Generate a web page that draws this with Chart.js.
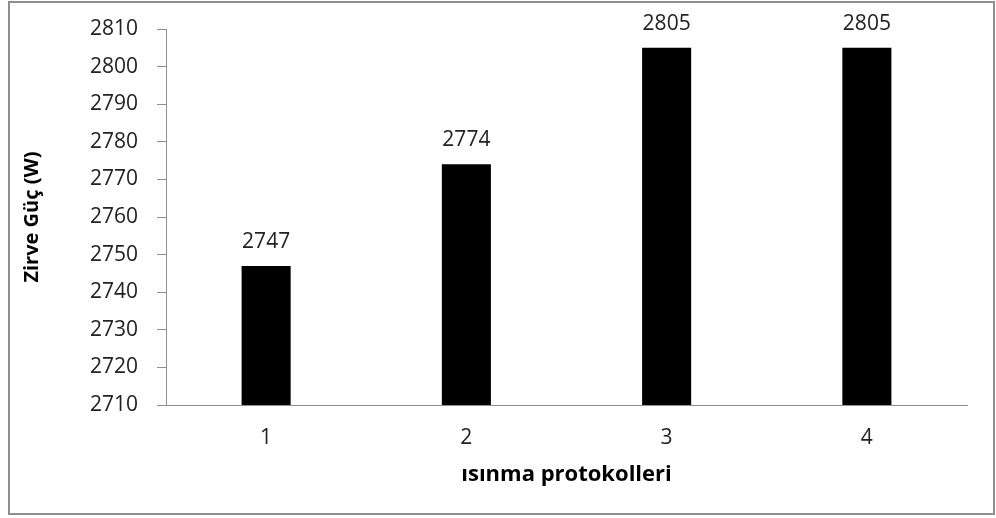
<!DOCTYPE html>
<html>
<head>
<meta charset="utf-8">
<script src="https://cdn.jsdelivr.net/npm/chart.js@4.4.0/dist/chart.umd.min.js"></script>
<style>
  html, body { margin: 0; padding: 0; background: #fff; }
  #wrap { width: 996px; height: 518px; position: relative; }
</style>
</head>
<body>
<div id="wrap"><canvas id="chart"></canvas></div>
<script>
var protokoller = ["1", "2", "3", "4"];
var zirveGuc = [2747, 2774, 2805, 2805];
var yMin = 2710;
var yMax = 2810;
var yStep = 10;

// frame around the whole picture
var framePlugin = {
  id: "frame",
  beforeDraw: function (chart) {
    var c = chart.ctx;
    c.save();
    c.fillStyle = "#fff";
    c.fillRect(0, 0, chart.width, chart.height);
    c.strokeStyle = "#8e8e8e";
    c.lineWidth = 2;
    c.strokeRect(9, 2, 985, 512);
    c.restore();
  }
};

// value labels above each bar
var valuePlugin = {
  id: "values",
  afterDatasetsDraw: function (chart) {
    var c = chart.ctx;
    var meta = chart.getDatasetMeta(0);
    c.save();
    c.font = "21px 'Open Sans'";
    c.fillStyle = "#222";
    c.textAlign = "center";
    c.textBaseline = "middle";
    meta.data.forEach(function (bar, i) {
      c.fillText(String(zirveGuc[i]), bar.x, bar.y - 24);
    });
    c.restore();
  }
};

var ctx = document.getElementById("chart").getContext("2d");
var myChart = new Chart(ctx, {
  type: "bar",
  data: {
    labels: protokoller,
    datasets: [
      {
        data: zirveGuc,
        backgroundColor: "#000",
        borderWidth: 0,
        barPercentage: 0.245,
        categoryPercentage: 1,
      },
    ],
  },
  options: {
    responsive: true,
    maintainAspectRatio: false,
    animation: false,
    layout: {
      padding: { left: 20, right: 29, top: 29, bottom: 26 },
    },
    plugins: {
      legend: { display: false },
      tooltip: { enabled: false },
    },
    scales: {
      y: {
        min: yMin,
        max: yMax,
        afterFit: function (s) {
          s.width = 146;
          s.paddingTop = 0;
          s.paddingBottom = 0;
        },
        ticks: {
          stepSize: yStep,
          padding: 19,
          color: "#222",
          font: { family: "'Open Sans'", size: 21 },
          callback: function (v) { return String(v); },
        },
        grid: {
          drawOnChartArea: false,
          drawTicks: true,
          tickLength: 9,
          color: "#8e8e8e",
        },
        border: { color: "#8e8e8e", width: 1 },
        title: {
          display: true,
          text: "Zirve Güç (W)",
          color: "#000",
          font: { family: "'Open Sans'", size: 20, weight: "bold" },
          padding: 0,
        },
      },
      x: {
        afterFit: function (s) { s.height = 87; },
        ticks: {
          padding: 20,
          color: "#222",
          font: { family: "'Open Sans'", size: 21 },
        },
        grid: { display: false, drawTicks: false },
        border: { color: "#8e8e8e", width: 1 },
        title: {
          display: true,
          text: "ısınma protokolleri",
          color: "#000",
          font: { family: "'Open Sans'", size: 22, weight: "bold" },
          padding: { top: 4, bottom: 4 },
        },
      },
    },
  },
  plugins: [framePlugin, valuePlugin],
});
</script>
</body>
</html>
